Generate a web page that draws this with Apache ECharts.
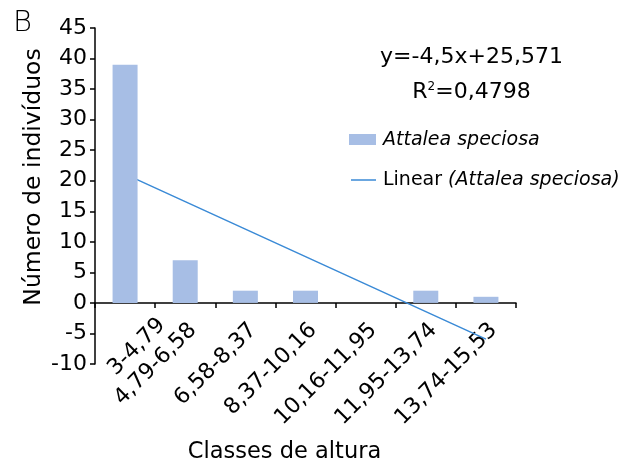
<!DOCTYPE html>
<html><head><meta charset="utf-8">
<script src="https://cdn.jsdelivr.net/npm/echarts@6/dist/echarts.min.js"></script>
<style>html,body{margin:0;padding:0;background:#fff}#c{width:627px;height:468px}</style>
</head><body><div id="c"></div>
<script>
const categories = ['3-4,79','4,79-6,58','6,58-8,37','8,37-10,16','10,16-11,95','11,95-13,74','13,74-15,53'];
const counts = [39, 7, 2, 2, 0, 2, 1];
const trendValues = [21.07, 16.57, 12.07, 7.57, 3.07, -1.43, -5.93];
const yTicks = [-10, 45, 5];
const FONT = '"DejaVu Sans"';
const F = 'DejaVu Sans';
const BAR = '#a7bee5', LINE = '#3a8ad6';
const chart = echarts.init(document.getElementById('c'));
chart.setOption({
  animation: false,
  textStyle: {fontFamily: F},
  grid: {left: 95, right: 111, top: 28, bottom: 104, containLabel: false, outerBoundsMode: 'none'},
  graphic: [
    {type: 'text', x: 22.5, y: 23, style: {text: 'B', font: '200 29px ' + FONT, fill: '#000', align: 'center', verticalAlign: 'middle'}},
    {type: 'text', x: 471.5, y: 57, style: {text: 'y=-4,5x+25,571', font: '22px ' + FONT, fill: '#000', align: 'center', verticalAlign: 'middle'}},
    {type: 'text', x: 471.5, y: 92, style: {rich: {a: {fontFamily: F, fontSize: 22, fill: '#000'}, s: {fontFamily: F, fontSize: 12, fill: '#000', verticalAlign: 'top', padding: [0,0,10,0]}}, text: '{a|R}{s|2}{a|=0,4798}', align: 'center', verticalAlign: 'middle'}},
    {type: 'rect', shape: {x: 349, y: 134, width: 27, height: 11}, style: {fill: BAR}},
    {type: 'text', x: 383, y: 140, style: {text: 'Attalea speciosa', font: 'italic 19px ' + FONT, fill: '#000', verticalAlign: 'middle'}},
    {type: 'line', shape: {x1: 351, y1: 180, x2: 376, y2: 180}, style: {stroke: LINE, lineWidth: 1.5}},
    {type: 'text', x: 383, y: 180, style: {rich: {n: {fontFamily: F, fontSize: 19, fill: '#000'}, i: {fontFamily: F, fontSize: 19, fontStyle: 'italic', fill: '#000'}}, text: '{n|Linear }{i|(Attalea speciosa)}', verticalAlign: 'middle'}},
    {type: 'text', x: 34, y: 177, rotation: Math.PI / 2, style: {text: 'Número de indivíduos', font: '23.5px ' + FONT, fill: '#000', align: 'center', verticalAlign: 'middle'}},
    {type: 'text', x: 284.5, y: 452, style: {text: 'Classes de altura', font: '22.5px ' + FONT, fill: '#000', align: 'center', verticalAlign: 'middle'}}
  ],
  xAxis: {
    type: 'category', data: categories,
    axisLine: {onZero: true, lineStyle: {color: '#000', width: 1.5}},
    axisTick: {show: true, length: 5, lineStyle: {color: '#000', width: 1.5}},
    axisLabel: {
      rotate: 45, interval: 0, margin: -45, verticalAlign: 'top', color: '#000',
      formatter: (v, i) => (i === 0 ? '{f|' : '{n|') + v + '}',
      rich: {
        n: {fontFamily: F, fontSize: 22, color: '#000', lineHeight: 22},
        f: {fontFamily: F, fontSize: 22, color: '#000', lineHeight: 56, width: 47, align: 'left'}
      }
    }
  },
  yAxis: {
    type: 'value', min: yTicks[0], max: yTicks[1], interval: yTicks[2],
    splitLine: {show: false},
    axisLine: {show: true, lineStyle: {color: '#000', width: 1.5}},
    axisTick: {show: true, length: 5, lineStyle: {color: '#000', width: 1.5}},
    axisLabel: {fontFamily: F, fontSize: 22, color: '#000', margin: 8}
  },
  series: [
    {name: 'Linear (Attalea speciosa)', type: 'line', data: trendValues, symbol: 'none', z: 1,
     lineStyle: {color: LINE, width: 1.5}, itemStyle: {color: LINE}},
    {name: 'Attalea speciosa', type: 'bar', data: counts, barWidth: 25, z: 3,
     itemStyle: {color: BAR}}
  ]
});
</script></body></html>
